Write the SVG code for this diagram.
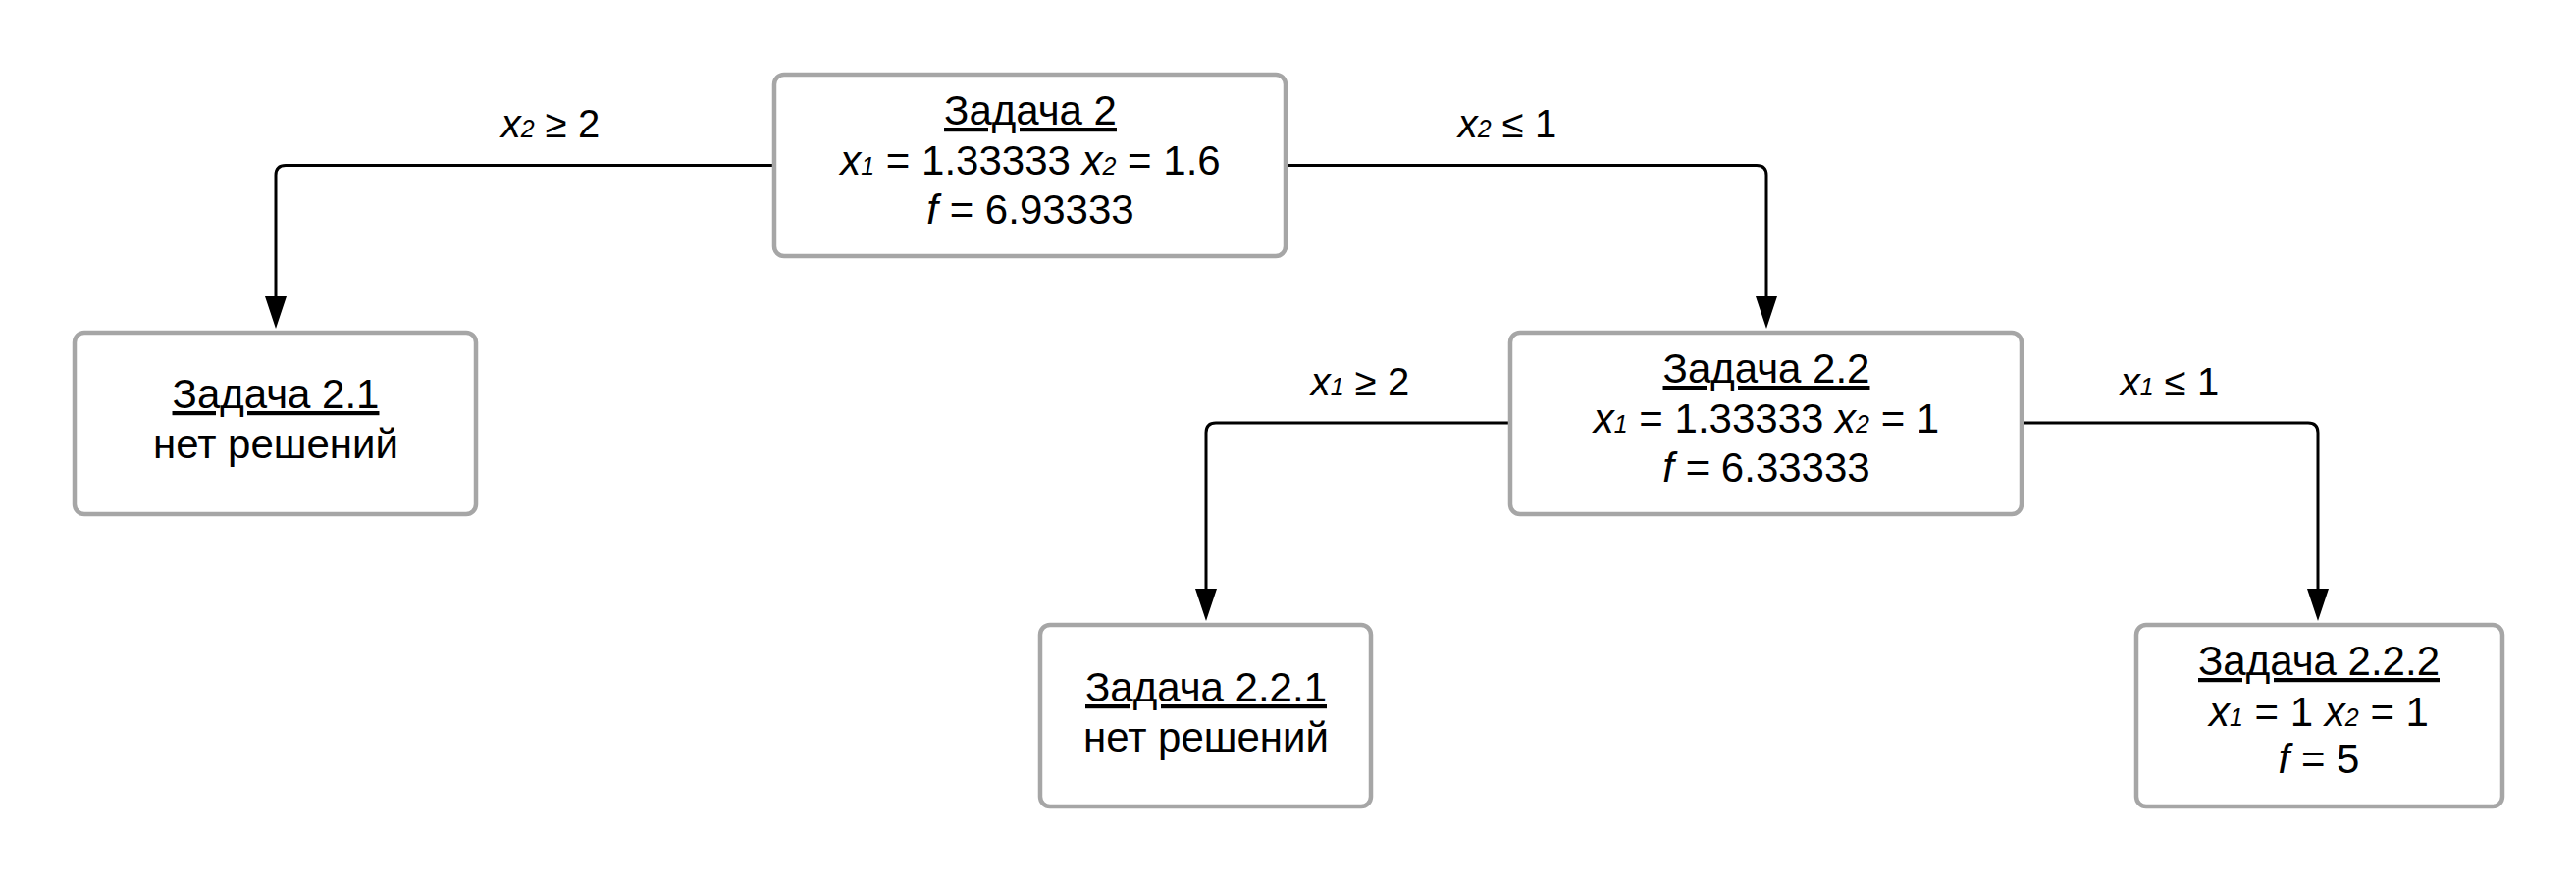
<svg xmlns="http://www.w3.org/2000/svg" width="2625" height="900" viewBox="0 0 2625 900">
<style>
.box{fill:#ffffff;stroke:#a6a6a6;stroke-width:4.5}
.t{font-family:"Liberation Sans",Arial,sans-serif;font-size:42px;fill:#000;text-anchor:middle}
.l{font-size:40px}
.u{text-decoration:underline}
.i{font-style:italic}
.s{font-style:italic;font-size:25px}
.c{fill:none;stroke:#000;stroke-width:3}
</style>
<defs>
<marker id="ah" markerUnits="userSpaceOnUse" markerWidth="34" markerHeight="24" refX="0" refY="11" orient="auto">
<path d="M0,0 L33,11 L0,22 z" fill="#000"/>
</marker>
</defs>
<rect width="2625" height="900" fill="#ffffff"/>
<g id="connectors">
<path class="c" d="M787,168.5 H291 Q281,168.5 281,178.5 V302" marker-end="url(#ah)"/>
<path class="c" d="M1312,168.5 H1790 Q1800,168.5 1800,178.5 V302" marker-end="url(#ah)"/>
<path class="c" d="M1537,431 H1239 Q1229,431 1229,441 V600" marker-end="url(#ah)"/>
<path class="c" d="M2062,431 H2352 Q2362,431 2362,441 V600" marker-end="url(#ah)"/>
<text class="t l" x="561" y="140"><tspan class="i">x</tspan><tspan class="s">2</tspan> ≥ 2</text>
<text class="t l" x="1536" y="140"><tspan class="i">x</tspan><tspan class="s">2</tspan> ≤ 1</text>
<text class="t l" x="1386" y="403"><tspan class="i">x</tspan><tspan class="s">1</tspan> ≥ 2</text>
<text class="t l" x="2211" y="403"><tspan class="i">x</tspan><tspan class="s">1</tspan> ≤ 1</text>
</g>
<g id="node-2">
<rect class="box" x="789" y="76" width="521" height="185" rx="10"/>
<text class="t u" x="1050" y="127">Задача 2</text>
<text class="t" x="1050" y="178"><tspan class="i">x</tspan><tspan class="s">1</tspan> = 1.33333 <tspan class="i">x</tspan><tspan class="s">2</tspan> = 1.6</text>
<text class="t" x="1050" y="228"><tspan class="i">f</tspan> = 6.93333</text>
</g>
<g id="node-2-1">
<rect class="box" x="76" y="339" width="409" height="185" rx="10"/>
<text class="t u" x="281" y="416">Задача 2.1</text>
<text class="t" x="281" y="467">нет решений</text>
</g>
<g id="node-2-2">
<rect class="box" x="1539" y="339" width="521" height="185" rx="10"/>
<text class="t u" x="1800" y="390">Задача 2.2</text>
<text class="t" x="1800" y="441"><tspan class="i">x</tspan><tspan class="s">1</tspan> = 1.33333 <tspan class="i">x</tspan><tspan class="s">2</tspan> = 1</text>
<text class="t" x="1800" y="491"><tspan class="i">f</tspan> = 6.33333</text>
</g>
<g id="node-2-2-1">
<rect class="box" x="1060" y="637" width="337" height="185" rx="10"/>
<text class="t u" x="1229" y="715">Задача 2.2.1</text>
<text class="t" x="1229" y="766">нет решений</text>
</g>
<g id="node-2-2-2">
<rect class="box" x="2177" y="637" width="373" height="185" rx="10"/>
<text class="t u" x="2363" y="688">Задача 2.2.2</text>
<text class="t" x="2363" y="740"><tspan class="i">x</tspan><tspan class="s">1</tspan> = 1 <tspan class="i">x</tspan><tspan class="s">2</tspan> = 1</text>
<text class="t" x="2363" y="788"><tspan class="i">f</tspan> = 5</text>
</g>
</svg>
